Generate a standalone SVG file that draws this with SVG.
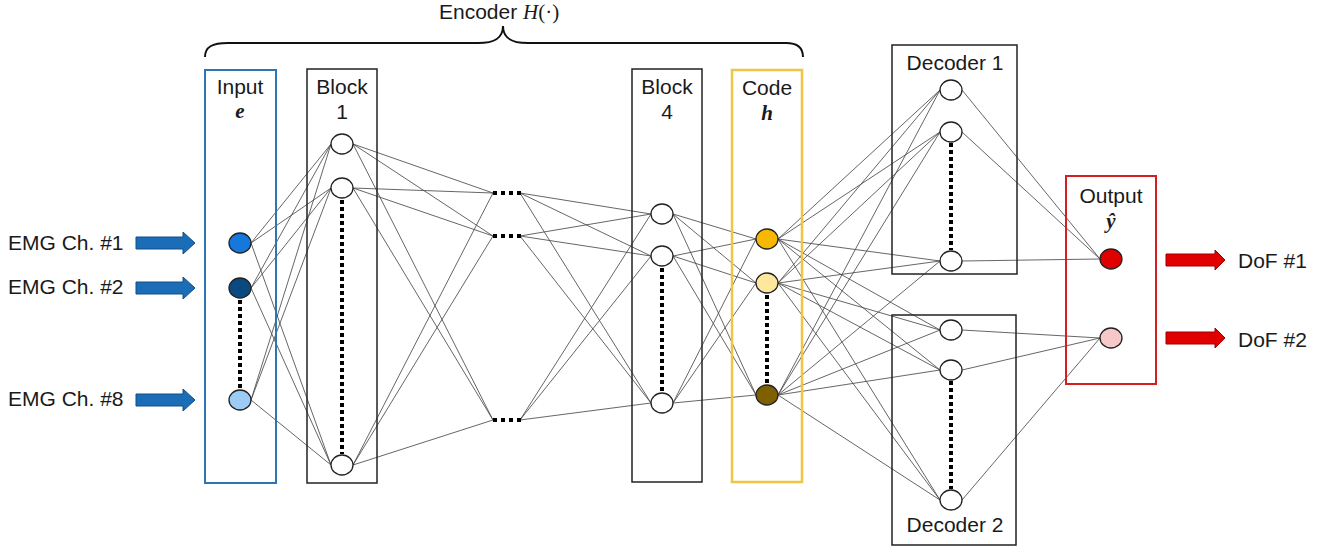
<svg xmlns="http://www.w3.org/2000/svg" xmlns:xlink="http://www.w3.org/1999/xlink" width="1330" height="548" viewBox="0 0 1330 548">
<defs>
<style>
.t{font-family:"Liberation Sans",Arial,sans-serif;font-size:21px;fill:#1a1a1a}
.m{font-family:"Liberation Serif","Times New Roman",serif;font-size:21px;font-style:italic;font-weight:bold;fill:#1a1a1a}
.mi{font-family:"Liberation Serif","Times New Roman",serif;font-style:italic;font-weight:normal}
.ms{font-family:"Liberation Serif","Times New Roman",serif;font-style:normal;font-weight:normal}
.box{fill:none;stroke:#222;stroke-width:1.5}
.node{stroke:#222;stroke-width:1.3}
.conn{fill:none;stroke:#4a4a4a;stroke-width:0.85}
.dot{fill:none;stroke:#000;stroke-width:4;stroke-dasharray:4 3}
.hdot{fill:none;stroke:#000;stroke-width:4;stroke-dasharray:4 4}
</style>
<path id="barrow" d="M136,237 L183,237 L183,232 L195,243 L183,254 L183,249 L136,249 Z" fill="#1C6DB8" stroke="#104E86" stroke-width="1"/>
<path id="rarrow" d="M1166,254 L1215,254 L1215,250 L1225,260 L1215,270 L1215,266 L1166,266 Z" fill="#E00000" stroke="#A00000" stroke-width="1"/>
</defs>
<rect width="1330" height="548" fill="#fff"/>

<g id="encoder-brace">
<path d="M205,57 C205,47 212,43 228,43 L478,43 C495,43 503,38 503,26 C503,38 511,43 528,43 L786,43 C798,43 803,48 803,57" fill="none" stroke="#111" stroke-width="2"/>
<text x="439" y="19" class="t">Encoder <tspan class="mi">H</tspan><tspan class="ms">(·)</tspan></text>
</g>

<g id="connectors" class="conn">
<path d="M251,243L331,144M251,243L331,188M251,243L331,465M251,288L331,144M251,288L331,188M251,288L331,465M251,400L331,144M251,400L331,188M251,400L331,465"/>
<path d="M353,144L493,193M353,144L493,236M353,144L493,420M353,188L493,193M353,188L493,236M353,188L493,420M353,465L493,193M353,465L493,236M353,465L493,420"/>
<path d="M520,193L651,214M520,193L651,256M520,193L651,403M520,236L651,214M520,236L651,256M520,236L651,403M520,420L651,214M520,420L651,256M520,420L651,403"/>
<path d="M673,214L756,239M673,214L756,283M673,214L756,395M673,256L756,239M673,256L756,283M673,256L756,395M673,403L756,239M673,403L756,283M673,403L756,395"/>
<path d="M778,239L940,90M778,239L940,132M778,239L940,261M778,239L940,330M778,239L940,370M778,239L940,500M778,283L940,90M778,283L940,132M778,283L940,261M778,283L940,330M778,283L940,370M778,283L940,500M778,395L940,90M778,395L940,132M778,395L940,261M778,395L940,330M778,395L940,370M778,395L940,500"/>
<path d="M962,90L1100,259M962,132L1100,259M962,261L1100,259M962,330L1100,338M962,370L1100,338M962,500L1100,338"/>
</g>

<g id="input-arrows">
<use xlink:href="#barrow"/>
<use xlink:href="#barrow" transform="translate(0,45)"/>
<use xlink:href="#barrow" transform="translate(0,157)"/>
<text x="8" y="250" class="t">EMG Ch. #1</text>
<text x="8" y="294" class="t">EMG Ch. #2</text>
<text x="8" y="406" class="t">EMG Ch. #8</text>
</g>

<g id="input">
<rect x="205" y="70" width="71" height="413" fill="none" stroke="#2E75B6" stroke-width="2"/>
<text x="240" y="94" class="t" text-anchor="middle">Input</text>
<text x="240" y="118" class="m" text-anchor="middle">e</text>
<path class="dot" d="M240,300V389"/>
<ellipse class="node" cx="240" cy="243" rx="11" ry="10" fill="#1478DC"/>
<ellipse class="node" cx="240" cy="288" rx="11" ry="10" fill="#0A4A80"/>
<ellipse class="node" cx="240" cy="400" rx="11" ry="10" fill="#9CCBF5"/>
</g>

<g id="block1">
<rect class="box" x="307" y="69" width="70" height="414"/>
<text x="342" y="94" class="t" text-anchor="middle">Block</text>
<text x="342" y="119" class="t" text-anchor="middle">1</text>
<path class="dot" d="M342,200V454"/>
<ellipse class="node" cx="342" cy="144" rx="11" ry="10" fill="#fff"/>
<ellipse class="node" cx="342" cy="188" rx="11" ry="10" fill="#fff"/>
<ellipse class="node" cx="342" cy="465" rx="11" ry="10" fill="#fff"/>
</g>

<g id="hidden-blocks">
<path class="hdot" d="M493,193H522M493,236H522M493,420H522"/>
</g>

<g id="block4">
<rect class="box" x="632" y="69" width="70" height="413"/>
<text x="667" y="94" class="t" text-anchor="middle">Block</text>
<text x="667" y="119" class="t" text-anchor="middle">4</text>
<path class="dot" d="M662,268V392"/>
<ellipse class="node" cx="662" cy="214" rx="11" ry="10" fill="#fff"/>
<ellipse class="node" cx="662" cy="256" rx="11" ry="10" fill="#fff"/>
<ellipse class="node" cx="662" cy="403" rx="11" ry="10" fill="#fff"/>
</g>

<g id="code">
<rect x="732" y="70" width="70" height="412" fill="none" stroke="#EEC643" stroke-width="2.5"/>
<text x="767" y="95" class="t" text-anchor="middle">Code</text>
<text x="767" y="120" class="m" text-anchor="middle">h</text>
<path class="dot" d="M767,295V384"/>
<ellipse class="node" cx="767" cy="239" rx="11" ry="10" fill="#F6B800"/>
<ellipse class="node" cx="767" cy="283" rx="11" ry="10" fill="#FFE79E"/>
<ellipse class="node" cx="767" cy="395" rx="11" ry="10" fill="#7F6000"/>
</g>

<g id="decoder1">
<rect class="box" x="892" y="45" width="125" height="229"/>
<text x="955" y="70" class="t" text-anchor="middle">Decoder 1</text>
<path class="dot" d="M951,143V250"/>
<ellipse class="node" cx="951" cy="90" rx="11" ry="10" fill="#fff"/>
<ellipse class="node" cx="951" cy="132" rx="11" ry="10" fill="#fff"/>
<ellipse class="node" cx="951" cy="261" rx="11" ry="10" fill="#fff"/>
</g>

<g id="decoder2">
<rect class="box" x="892" y="315" width="124" height="230"/>
<text x="955" y="532" class="t" text-anchor="middle">Decoder 2</text>
<path class="dot" d="M951,381V489"/>
<ellipse class="node" cx="951" cy="330" rx="11" ry="10" fill="#fff"/>
<ellipse class="node" cx="951" cy="370" rx="11" ry="10" fill="#fff"/>
<ellipse class="node" cx="951" cy="500" rx="11" ry="10" fill="#fff"/>
</g>

<g id="output">
<rect x="1066" y="176" width="90" height="208" fill="none" stroke="#D02020" stroke-width="2"/>
<text x="1111" y="203" class="t" text-anchor="middle">Output</text>
<text x="1111" y="228" class="m" text-anchor="middle">ŷ</text>
<ellipse class="node" cx="1111" cy="259" rx="11" ry="10" fill="#E00000"/>
<ellipse class="node" cx="1111" cy="338" rx="11" ry="10" fill="#F7C8C8"/>
</g>

<g id="output-arrows">
<use xlink:href="#rarrow"/>
<use xlink:href="#rarrow" transform="translate(0,78)"/>
<text x="1238" y="268" class="t">DoF #1</text>
<text x="1238" y="347" class="t">DoF #2</text>
</g>
</svg>
